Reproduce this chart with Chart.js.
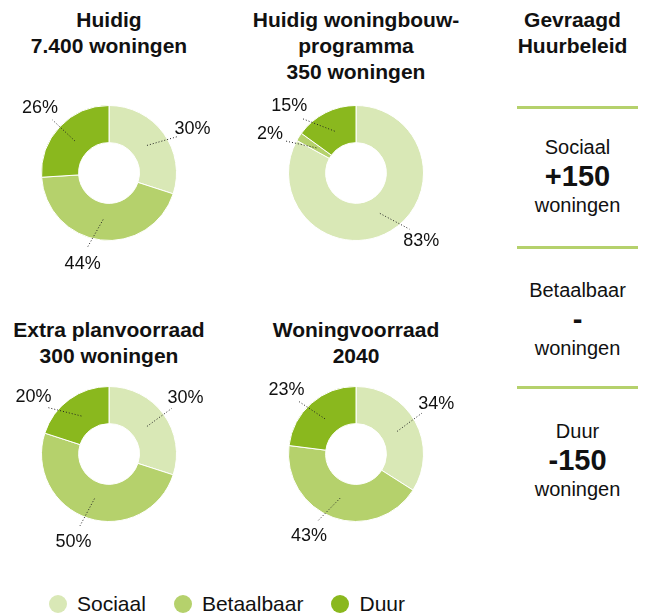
<!DOCTYPE html>
<html lang="nl">
<head>
<meta charset="utf-8">
<title>Woningvoorraad naar segment</title>
<script src="https://cdn.jsdelivr.net/npm/chart.js@4"></script>
<style>
  html, body { margin: 0; padding: 0; background: #fff; }
  body { width: 648px; height: 614px; position: relative; overflow: hidden;
         font-family: "Liberation Sans", Arial, Helvetica, sans-serif; color: #111; }
  .title { position: absolute; width: 240px; text-align: center; font-weight: bold;
           font-size: 21px; line-height: 26px; }
  canvas.donut { position: absolute; }
  #beleid { position: absolute; left: 517px; top: 0; width: 121px; text-align: center; }
  #beleid .kop { position: absolute; top: 7px; left: -25px; width: 161px; font-weight: bold;
                 font-size: 21px; line-height: 26px; }
  #beleid .lijn { position: absolute; left: 0; width: 121px; height: 3px; background: #b5d16c; }
  #beleid .blok { position: absolute; left: -20px; width: 161px; font-size: 20px; line-height: 28px; }
  #beleid .blok b { display: block; font-size: 29px; line-height: 30px; }
  #legend { position: absolute; left: 49px; top: 592px; display: flex; align-items: center;
            font-size: 21px; line-height: 24px; }
  #legend .item { display: flex; align-items: center; margin-right: 28px; }
  #legend .dot { width: 18px; height: 18px; border-radius: 50%; margin-right: 10px; }
</style>
</head>
<body>

<div id="titles"></div>
<canvas class="donut" id="c0" width="240" height="240" style="left:-11px;top:53px"></canvas>
<canvas class="donut" id="c1" width="240" height="240" style="left:236px;top:53px"></canvas>
<canvas class="donut" id="c2" width="240" height="240" style="left:-11px;top:334px"></canvas>
<canvas class="donut" id="c3" width="240" height="240" style="left:236px;top:334px"></canvas>

<div id="beleid"></div>
<div id="legend"></div>

<script>
// segmenten
const categories = ['Sociaal', 'Betaalbaar', 'Duur'];
const colors = ['#d9e8b6', '#b5d16c', '#8ab81e'];

// aandeel per segment (%)
const huidig = [30, 44, 26];
const programma = [83, 2, 15];
const planvoorraad = [30, 50, 20];
const voorraad2040 = [34, 43, 23];

const chartTitles = [
  ['Huidig', '7.400 woningen'],
  ['Huidig woningbouw-', 'programma', '350 woningen'],
  ['Extra planvoorraad', '300 woningen'],
  ['Woningvoorraad', '2040']
];

// gevraagd huurbeleid
const beleidKop = ['Gevraagd', 'Huurbeleid'];
const beleidSegment = ['Sociaal', 'Betaalbaar', 'Duur'];
const beleidAantal = ['+150', '-', '-150'];

// layout per donut: titelpositie en kleine verschuiving van de labels (graden)
const panels = [
  { data: huidig,       titleLeft: -11, titleTop: 7,   nudge: [8, 9, 0] },
  { data: programma,    titleLeft: 236, titleTop: 7,   nudge: [-13, -8, -18] },
  { data: planvoorraad, titleLeft: -11, titleTop: 317, nudge: [0, 4, -17] },
  { data: voorraad2040, titleLeft: 236, titleTop: 317, nudge: [-3, 10, -6] }
];

// percentages buiten de ring met een gestippelde verbindingslijn
const pctLabels = {
  id: 'pctLabels',
  afterDatasetsDraw(chart, args, opts) {
    const ctx = chart.ctx;
    const ds = chart.data.datasets[0];
    chart.getDatasetMeta(0).data.forEach((arc, i) => {
      const { x, y, startAngle, endAngle, innerRadius, outerRadius } = arc.getProps(
        ['x', 'y', 'startAngle', 'endAngle', 'innerRadius', 'outerRadius'], true);
      const mid = (startAngle + endAngle) / 2;
      const la = mid + (opts.nudge[i] || 0) * Math.PI / 180;
      const r0 = (innerRadius + outerRadius) / 2 - 2;
      const r1 = outerRadius + 10;
      const r2 = outerRadius + 27;

      ctx.save();
      ctx.strokeStyle = '#222';
      ctx.lineWidth = 1;
      ctx.setLineDash([1, 2]);
      ctx.beginPath();
      ctx.moveTo(x + Math.cos(mid) * r0, y + Math.sin(mid) * r0);
      ctx.lineTo(x + Math.cos(la) * r1, y + Math.sin(la) * r1);
      ctx.stroke();
      ctx.setLineDash([]);
      ctx.fillStyle = '#111';
      ctx.font = '18px "Liberation Sans", Arial, sans-serif';
      ctx.textAlign = 'center';
      ctx.textBaseline = 'middle';
      ctx.fillText(ds.data[i] + '%', x + Math.cos(la) * r2, y + Math.sin(la) * r2);
      ctx.restore();
    });
  }
};

panels.forEach((p, k) => {
  const t = document.createElement('div');
  t.className = 'title';
  t.style.left = p.titleLeft + 'px';
  t.style.top = p.titleTop + 'px';
  t.innerHTML = chartTitles[k].join('<br>');
  document.getElementById('titles').appendChild(t);

  new Chart(document.getElementById('c' + k), {
    type: 'doughnut',
    data: {
      labels: categories,
      datasets: [{
        data: p.data,
        backgroundColor: colors,
        borderColor: '#ffffff',
        borderWidth: 1
      }]
    },
    options: {
      responsive: false,
      animation: false,
      cutout: '45%',
      layout: { padding: 52 },
      plugins: {
        legend: { display: false },
        tooltip: { enabled: false },
        pctLabels: { nudge: p.nudge }
      }
    },
    plugins: [pctLabels]
  });
});

// rechterkolom
const beleid = document.getElementById('beleid');
beleid.innerHTML = '<div class="kop">' + beleidKop.join('<br>') + '</div>';
const lijnTop = [106, 246, 386];
const blokTop = [133, 276, 417];
beleidSegment.forEach((s, i) => {
  beleid.innerHTML += '<div class="lijn" style="top:' + lijnTop[i] + 'px"></div>' +
    '<div class="blok" style="top:' + blokTop[i] + 'px">' + s +
    '<b>' + beleidAantal[i] + '</b>woningen</div>';
});

// legenda
const legend = document.getElementById('legend');
categories.forEach((c, i) => {
  legend.innerHTML += '<div class="item"><span class="dot" style="background:' + colors[i] +
    '"></span>' + c + '</div>';
});
</script>
</body>
</html>
